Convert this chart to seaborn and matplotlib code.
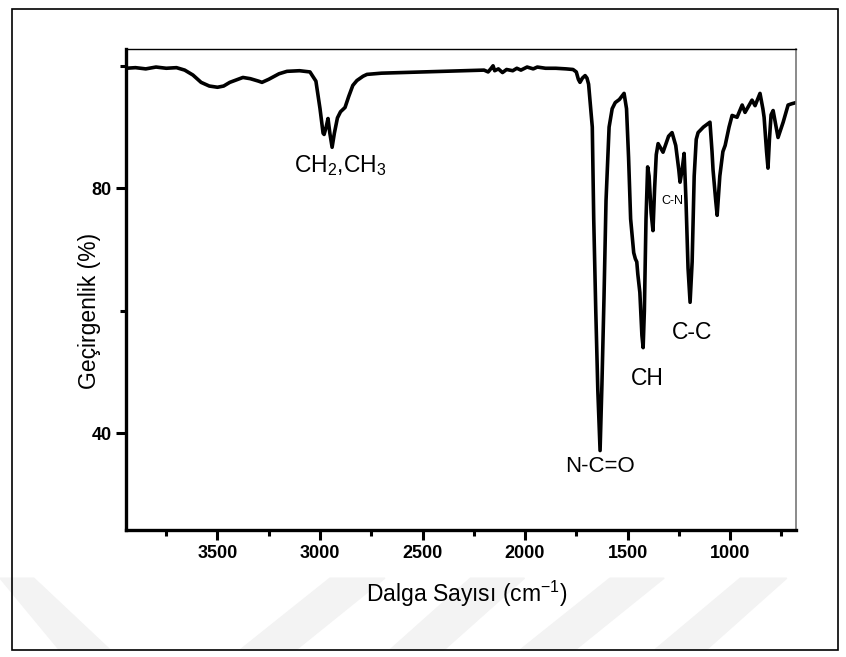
import numpy as np
import pandas as pd
import seaborn as sns
import matplotlib as mpl
from matplotlib import pyplot as plt
from matplotlib.patches import Rectangle, Polygon

sns.set_style("white")
plt.rcParams['font.family'] = ['Liberation Sans', 'DejaVu Sans']
plt.rcParams['mathtext.fontset'] = 'custom'
plt.rcParams['mathtext.rm'] = 'Liberation Sans'
for key in ["text.color", "axes.labelcolor", "xtick.color", "ytick.color"]:
    plt.rcParams[key] = "black"

# FTIR spectrum (wavenumber, transmittance)
wavenumber = [
    3946, 3900, 3850, 3800, 3750, 3700, 3660, 3620, 3580, 3540, 3500, 3470,
    3440, 3400, 3376, 3340, 3300, 3283, 3250, 3200, 3161, 3100, 3049, 3020,
    3000, 2985, 2980, 2970, 2961, 2952, 2941, 2930, 2915, 2900, 2878, 2860,
    2840, 2820, 2790, 2771, 2700, 2600, 2500, 2400, 2300, 2200, 2180, 2165,
    2156, 2148, 2130, 2110, 2090, 2060, 2040, 2020, 1990, 1960, 1940, 1900,
    1850, 1800, 1766, 1750, 1740, 1732, 1720, 1707, 1698, 1690, 1672, 1665,
    1655, 1645, 1634, 1625, 1615, 1605, 1590, 1575, 1560, 1540, 1517, 1505,
    1495, 1485, 1470, 1462, 1455, 1450, 1440, 1430, 1424, 1418, 1410, 1402,
    1395, 1385, 1376, 1368, 1360, 1351, 1327, 1300, 1283, 1265, 1250, 1244,
    1234, 1224, 1215, 1205, 1195, 1185, 1175, 1165, 1156, 1130, 1098, 1088,
    1083, 1070, 1063, 1050, 1035, 1024, 1005, 990, 966, 941, 927, 893, 878,
    854, 840, 834, 822, 815, 808, 800, 790, 766, 741, 717, 700, 678,
]
transmittance = [
    99.6, 99.7, 99.5, 99.8, 99.6, 99.7, 99.3, 98.5, 97.3, 96.7, 96.5, 96.7,
    97.3, 97.8, 98.1, 97.9, 97.5, 97.3, 97.8, 98.7, 99.1, 99.2, 99.0, 97.5,
    93.0, 89.0, 88.8, 90.0, 91.4, 89.0, 86.7, 89.0, 91.5, 92.5, 93.2, 95.0,
    96.8, 97.6, 98.3, 98.6, 98.8, 98.9, 99.0, 99.1, 99.2, 99.3, 99.0, 99.6,
    100.0, 99.2, 99.5, 98.9, 99.4, 99.2, 99.6, 99.3, 99.8, 99.5, 99.8, 99.6,
    99.6, 99.5, 99.4, 99.0, 97.8, 97.3, 98.0, 98.4, 98.0, 97.0, 90.0, 75.0,
    60.0, 47.0, 37.2, 48.0, 62.0, 78.0, 90.0, 93.0, 94.0, 94.5, 95.5, 93.0,
    85.0, 75.0, 69.5, 68.5, 68.0, 66.0, 63.0, 56.0, 54.0, 60.0, 75.0, 83.5,
    82.0, 76.0, 73.1, 80.0, 85.5, 87.3, 85.9, 88.5, 89.1, 87.0, 83.0, 81.0,
    83.0, 85.7, 78.0, 67.0, 61.4, 68.0, 82.0, 88.0, 89.1, 90.0, 90.8, 86.0,
    83.0, 78.0, 75.6, 82.0, 86.0, 87.0, 90.0, 91.9, 91.6, 93.6, 92.4, 94.4,
    93.5, 95.5, 93.0, 91.6, 86.0, 83.3, 88.0, 92.0, 92.7, 88.3, 90.8, 93.6,
    93.8, 94.0,
]

peak_labels = ["CH$_2$,CH$_3$", "N-C=O", "CH", "C-C", "C-N"]
peak_x = [2902, 1634, 1405, 1185, 1283]
peak_y = [83.8, 34.6, 49.0, 56.5, 78.0]
peak_size = [16.5, 16, 16.5, 16.5, 9]

df = pd.DataFrame({"wavenumber": wavenumber, "T": transmittance})

fig = plt.figure(figsize=(8.46, 6.57), dpi=100)
ax = fig.add_axes([0.149, 0.193, 0.792, 0.732])

sns.lineplot(data=df, x="wavenumber", y="T", color="black", lw=2.6,
             estimator=None, ax=ax)

ax.set_xlim(3946, 678)
ax.set_ylim(24.2, 102.7)
ax.set_xticks([3500, 3000, 2500, 2000, 1500, 1000])
ax.set_xticks([3750, 3250, 2750, 2250, 1750, 1250, 750], minor=True)
ax.set_yticks([40, 80])
ax.set_yticks([60, 100], minor=True)
ax.tick_params(which="major", direction="out", length=7, width=2.2,
               labelsize=13, bottom=True, left=True)
ax.tick_params(which="minor", direction="out", length=4, width=2.2,
               bottom=True, left=True)
for lab in ax.get_xticklabels() + ax.get_yticklabels():
    lab.set_fontweight("bold")

for side in ["left", "bottom"]:
    ax.spines[side].set_linewidth(2.4)
    ax.spines[side].set_color("black")
ax.spines["top"].set_linewidth(1.0)
ax.spines["top"].set_color("black")
ax.spines["right"].set_linewidth(1.2)
ax.spines["right"].set_color("#777777")

ax.set_xlabel("Dalga Sayısı (cm$^{-1}$)", fontsize=16.5)
ax.set_ylabel("Geçirgenlik (%)", fontsize=16.5)
ax.xaxis.set_label_coords(0.509, -0.101)
ax.yaxis.set_label_coords(-0.037, 0.455)

for lab, x, y, s in zip(peak_labels, peak_x, peak_y, peak_size):
    ax.text(x, y, lab, fontsize=s, ha="center", va="center")

# faint watermark stripes and outer frame
stripes = [
    [[0.0, 0.12], [0.04, 0.12], [0.13, 0.011], [0.07, 0.011]],
    [[0.39, 0.12], [0.455, 0.12], [0.35, 0.011], [0.284, 0.011]],
    [[0.556, 0.12], [0.62, 0.12], [0.525, 0.011], [0.461, 0.011]],
    [[0.721, 0.12], [0.785, 0.12], [0.68, 0.011], [0.615, 0.011]],
    [[0.875, 0.12], [0.93, 0.12], [0.835, 0.011], [0.774, 0.011]],
]
for pts in stripes:
    fig.patches.append(Polygon(pts, closed=True, transform=fig.transFigure,
                               color="#f3f3f3", zorder=-1))
fig.patches.append(Rectangle((0.014, 0.011), 0.976, 0.976, fill=False,
                             edgecolor="black", lw=1.2,
                             transform=fig.transFigure))

fig.savefig("out.png", dpi=100)
